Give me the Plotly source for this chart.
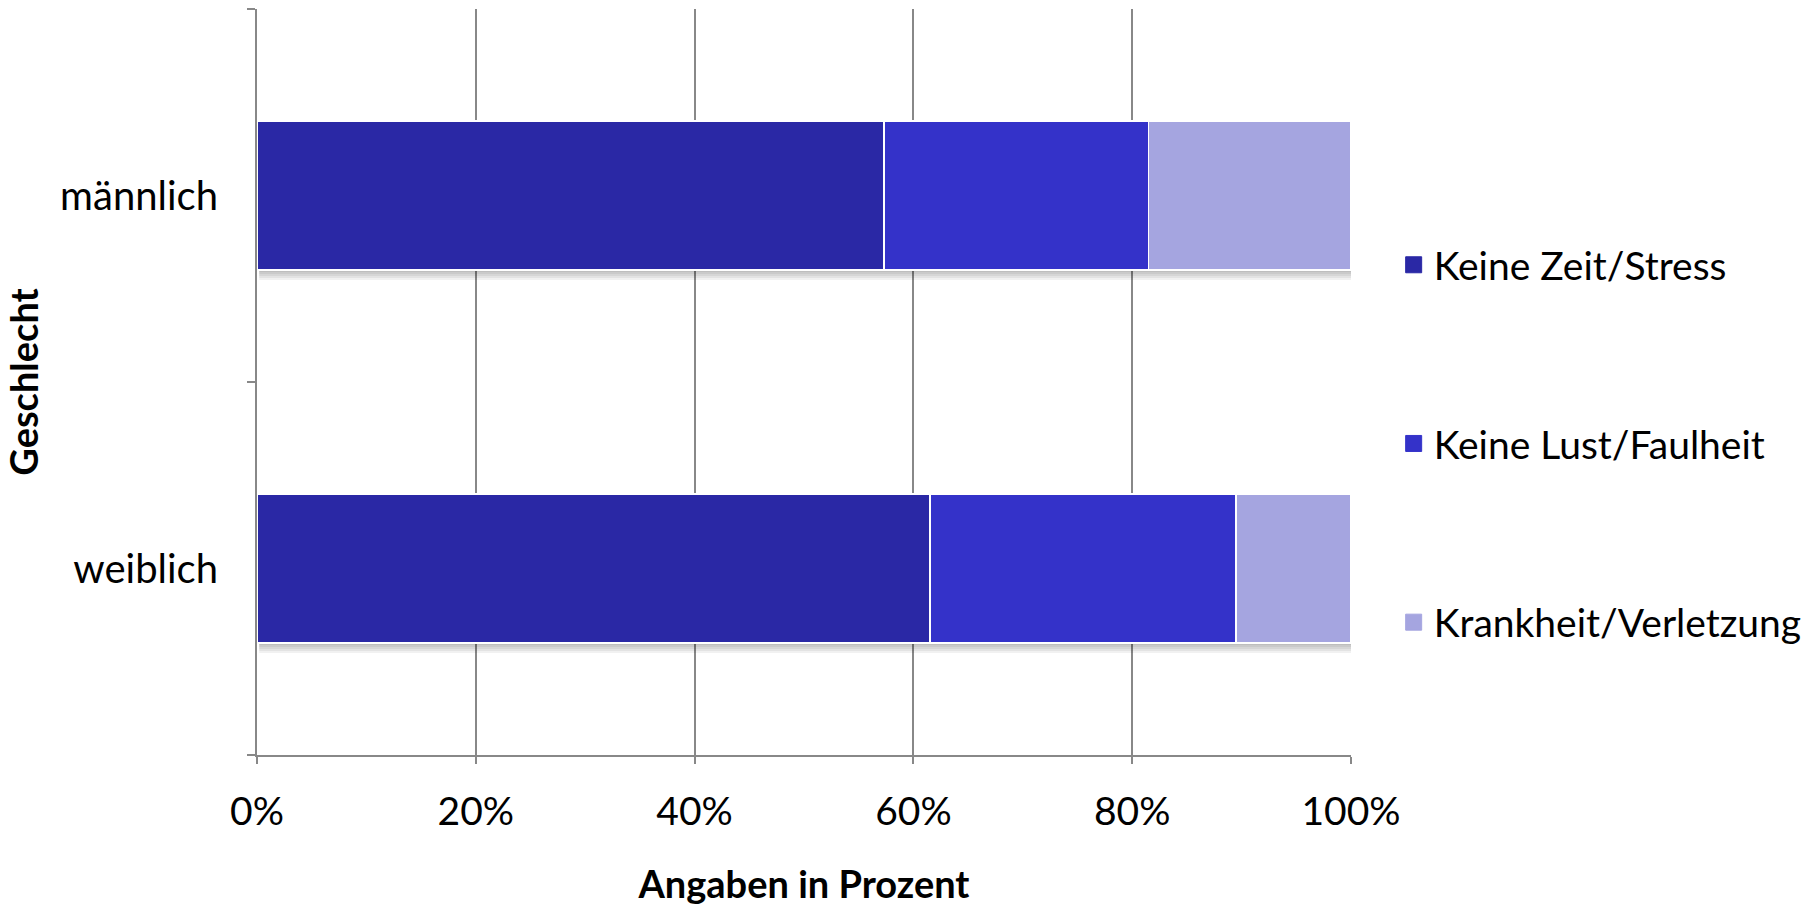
import plotly.graph_objects as go

# Gründe, keinen Sport zu treiben, nach Geschlecht (Anteile in Prozent)
categories = ["männlich", "weiblich"]
series_names = ["Keine Zeit/Stress", "Keine Lust/Faulheit", "Krankheit/Verletzung"]
zeit_stress = [57.3, 61.5]
lust_faulheit = [24.2, 28.0]
krankheit = [18.5, 10.5]
x_ticks = [0, 20, 40, 60, 80, 100]
x_tick_labels = ["0%", "20%", "40%", "60%", "80%", "100%"]

colors = ["#2A28A5", "#3432C9", "#A5A5E0"]
series_values = [zeit_stress, lust_faulheit, krankheit]

FONT = "Lato, 'Open Sans', sans-serif"
BARGAP = 0.6
PLOT_H = 906 - 9 - 151  # plot area height in px

fig = go.Figure()
for i, (name, vals, col) in enumerate(zip(series_names, series_values, colors)):
    fig.add_trace(go.Bar(
        y=categories,
        x=vals,
        name=name,
        orientation="h",
        marker=dict(color=col, line=dict(color="white", width=1.5)),
        showlegend=False,
    ))
    # legend entry with a larger square swatch
    fig.add_trace(go.Scatter(
        x=[None], y=[None],
        mode="markers",
        name=name,
        marker=dict(symbol="square", size=16, color=col, line=dict(color=col, width=1)),
        legendgroup=f"g{i}",
        showlegend=True,
        hoverinfo="skip",
    ))

# soft drop shadow underneath each stacked bar
order = categories[::-1]
px_y = len(order) / PLOT_H
for cat_i, cat in enumerate(categories):
    idx = order.index(cat)
    total = sum(s[cat_i] for s in series_values)
    bottom = idx - (1 - BARGAP) / 2
    for k in range(5):
        fig.add_shape(
            type="rect", xref="x", yref="y", layer="between",
            x0=0.2, x1=total + 0.35,
            y0=bottom - (k + 1) * 2 * px_y, y1=bottom,
            fillcolor="rgba(0,0,0,0.055)", line=dict(width=0),
        )

fig.update_layout(
    barmode="stack",
    bargap=BARGAP,
    width=1813,
    height=906,
    margin=dict(l=257, r=462, t=9, b=151, autoexpand=False),
    paper_bgcolor="white",
    plot_bgcolor="white",
    font=dict(family=FONT, size=39, color="black"),
    showlegend=True,
    legend=dict(
        x=1.039, xanchor="left",
        y=0.417, yanchor="middle",
        traceorder="grouped",
        tracegroupgap=125,
        font=dict(family=FONT, size=39, color="black"),
        itemwidth=30,
        itemsizing="trace",
        bgcolor="rgba(0,0,0,0)",
    ),
    xaxis=dict(
        range=[0, 100],
        tickvals=x_ticks,
        ticktext=x_tick_labels,
        showgrid=True,
        gridcolor="#888888",
        gridwidth=1.5,
        showline=True,
        linecolor="#888888",
        linewidth=2,
        ticks="outside",
        ticklen=7,
        tickcolor="#888888",
        tickwidth=1.5,
        ticklabelstandoff=14,
        zeroline=False,
        tickfont=dict(family=FONT, size=39),
        title=dict(text="<b>Angaben in Prozent</b>", font=dict(family=FONT, size=38), standoff=40),
        fixedrange=True,
    ),
    yaxis=dict(
        categoryorder="array",
        categoryarray=order,
        range=[-0.5, 1.5],
        showline=True,
        linecolor="#888888",
        linewidth=2,
        ticks="outside",
        tickson="boundaries",
        ticklen=8,
        tickcolor="#888888",
        tickwidth=1.5,
        ticklabelstandoff=29,
        showgrid=False,
        tickfont=dict(family=FONT, size=40),
        title=dict(text="<b>Geschlecht</b>", font=dict(family=FONT, size=38), standoff=12),
        fixedrange=True,
    ),
)

fig.write_html("out.html", config={"displayModeBar": False})
